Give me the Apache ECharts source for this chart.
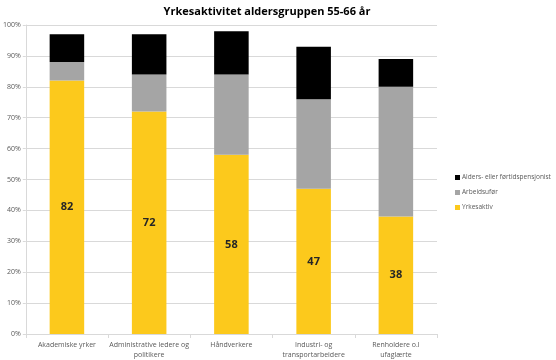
<!DOCTYPE html>
<html><head><meta charset="utf-8">
<script src="https://cdn.jsdelivr.net/npm/echarts@6/dist/echarts.min.js"></script>
<style>html,body{margin:0;padding:0;background:#fff}#c{width:556px;height:360px}</style>
</head><body><div id="c"></div>
<script>
var categories = ['Akademiske yrker', 'Administrative ledere og\npolitikere', 'Håndverkere', 'Industri- og\ntransportarbeidere', 'Renholdere o.l\nufaglærte'];
var yrkesaktiv = [82, 72, 58, 47, 38];
var arbeidsufor = [6, 12, 26, 29, 42];
var pensjonist = [9, 13, 14, 17, 9];
var yTicks = [0, 10, 20, 30, 40, 50, 60, 70, 80, 90, 100];

var chart = echarts.init(document.getElementById('c'));
var lblFont = {fontFamily: 'Open Sans', fontSize: 7, color: '#595959'};
chart.setOption({
  animation: false,
  title: {text: 'Yrkesaktivitet aldersgruppen 55-66 år', left: 262, textAlign: 'center', top: 1,
    textStyle: {fontFamily: 'Open Sans', fontSize: 11, fontWeight: 'bold', color: '#000'}},
  grid: {left: 24, right: 119, top: 25, bottom: 24},
  legend: {orient: 'vertical', left: 450, top: 169, itemWidth: 5, itemHeight: 5, itemGap: 8,
    icon: 'rect', textStyle: {fontFamily: 'Open Sans', fontSize: 6.5, color: '#595959', padding: [0,0,0,-3]},
    data: ['Alders- eller førtidspensjonist', 'Arbeidsufør', 'Yrkesaktiv']},
  xAxis: {type: 'category', data: categories,
    axisLine: {lineStyle: {color: '#d9d9d9'}},
    axisTick: {show: true, length: 4, lineStyle: {color: '#d9d9d9'}},
    axisLabel: Object.assign({margin: 6, lineHeight: 10, interval: 0}, lblFont)},
  yAxis: {type: 'value', min: 0, max: 100, interval: 10,
    axisLine: {show: true, lineStyle: {color: '#d9d9d9'}},
    axisTick: {show: true, length: 3, lineStyle: {color: '#d9d9d9'}},
    splitLine: {lineStyle: {color: '#d9d9d9'}},
    axisLabel: Object.assign({margin: 5, formatter: function(v){return yTicks.indexOf(v) >= 0 ? v + '%' : '';}}, lblFont)},
  series: [
    {name: 'Yrkesaktiv', type: 'bar', stack: 's', data: yrkesaktiv, barWidth: '42%',
      itemStyle: {color: '#FCC91C'},
      label: {show: true, position: 'inside', fontFamily: 'Open Sans', fontSize: 11, fontWeight: 'bold', color: '#262626'}},
    {name: 'Arbeidsufør', type: 'bar', stack: 's', data: arbeidsufor, barWidth: '42%',
      itemStyle: {color: '#A5A5A5'}},
    {name: 'Alders- eller førtidspensjonist', type: 'bar', stack: 's', data: pensjonist, barWidth: '42%',
      itemStyle: {color: '#000000'}}
  ]
});
</script></body></html>
